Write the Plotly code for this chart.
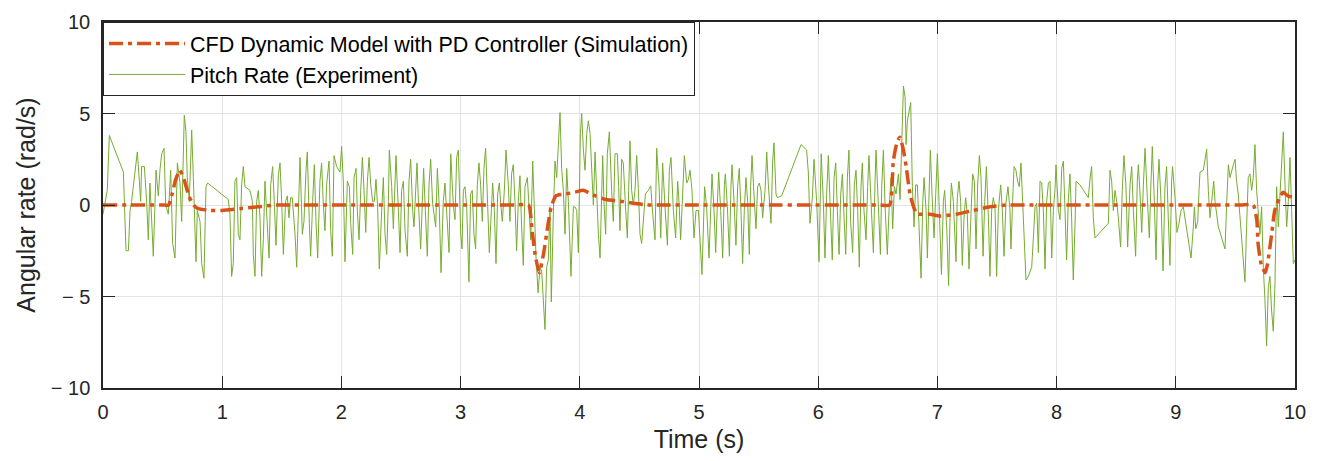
import plotly.graph_objects as go

# Experiment: pitch rate (rad/s) vs time (s)
exp_t = [0.0, 0.036, 0.053, 0.171, 0.193, 0.213, 0.227, 0.240, 0.254, 0.268, 0.288, 0.305, 0.316, 0.324, 0.347, 0.366, 0.380, 0.394, 0.408, 0.422, 0.445, 0.464, 0.478, 0.492, 0.512, 0.526, 0.548, 0.568, 0.584, 0.604, 0.624, 0.646, 0.660, 0.682, 0.696, 0.707, 0.724, 0.744, 0.758, 0.780, 0.791, 0.814, 0.828, 0.847, 0.864, 0.878,
         1.051, 1.065, 1.079, 1.093, 1.107, 1.121, 1.135, 1.149, 1.163, 1.177, 1.191, 1.233, 1.253, 1.261, 1.275, 1.289, 1.303, 1.317, 1.331, 1.345, 1.359, 1.373, 1.393, 1.407, 1.423, 1.437, 1.451, 1.471, 1.485, 1.499, 1.513, 1.532, 1.546, 1.560, 1.574, 1.588, 1.611, 1.625, 1.639, 1.653, 1.672, 1.686, 1.703, 1.714, 1.731, 1.742, 1.759, 1.773, 1.787, 1.801, 1.820, 1.834, 1.848, 1.862, 1.876, 1.896, 1.910, 1.924, 1.938, 1.960, 1.988, 2.002,
         2.016, 2.030, 2.050, 2.067, 2.078, 2.095, 2.106, 2.123, 2.134, 2.148, 2.162, 2.176, 2.190, 2.204, 2.218, 2.232, 2.246, 2.262, 2.276, 2.290, 2.304, 2.318, 2.338, 2.352, 2.366, 2.380, 2.394, 2.402, 2.422, 2.436, 2.450, 2.458, 2.478, 2.492, 2.505, 2.520, 2.534, 2.553, 2.567, 2.581, 2.598, 2.609, 2.623, 2.634, 2.648, 2.665, 2.679, 2.690, 2.704, 2.721, 2.735, 2.749, 2.765, 2.777, 2.791, 2.805, 2.821, 2.836, 2.855, 2.869, 2.883, 2.903, 2.917, 2.940, 2.953, 2.967, 2.981, 3.001, 3.012,
         3.023, 3.037, 3.051, 3.070, 3.084, 3.098, 3.112, 3.126, 3.140, 3.154, 3.168, 3.182, 3.196, 3.210, 3.224, 3.241, 3.255, 3.269, 3.283, 3.297, 3.311, 3.325, 3.336, 3.350, 3.367, 3.381, 3.400, 3.414, 3.428, 3.442, 3.456, 3.470, 3.484, 3.498, 3.512, 3.526, 3.540, 3.560, 3.574, 3.588, 3.605, 3.616, 3.633, 3.650, 3.666, 3.680, 3.694, 3.708, 3.722, 3.736, 3.750, 3.761, 3.778, 3.792, 3.806, 3.820, 3.834, 3.848, 3.862, 3.876, 3.890, 3.904, 3.926, 3.946, 3.960, 3.974, 3.988, 4.005, 4.016,
         4.030, 4.044, 4.058, 4.072, 4.086, 4.100, 4.114, 4.128, 4.142, 4.156, 4.170, 4.184, 4.192, 4.203, 4.217, 4.231, 4.248, 4.267, 4.281, 4.295, 4.315, 4.326, 4.337, 4.351, 4.365, 4.385, 4.399, 4.410, 4.421, 4.435, 4.449, 4.463, 4.477, 4.491, 4.505, 4.519, 4.533, 4.550, 4.575, 4.595, 4.612, 4.631, 4.645, 4.665, 4.679, 4.695, 4.715, 4.735, 4.751, 4.765, 4.785, 4.804, 4.821, 4.832, 4.846, 4.863, 4.877, 4.897, 4.911, 4.925, 4.941, 4.958, 4.975, 4.995, 5.008, 5.025, 5.047,
         5.064, 5.084, 5.098, 5.109, 5.126, 5.140, 5.154, 5.165, 5.182, 5.199, 5.213, 5.221, 5.238, 5.255, 5.268, 5.277, 5.294, 5.310, 5.324, 5.338, 5.352, 5.366, 5.380, 5.394, 5.408, 5.422, 5.433, 5.445, 5.461, 5.478, 5.492, 5.506, 5.520, 5.534, 5.554, 5.568, 5.582, 5.604, 5.618, 5.629, 5.646, 5.657, 5.693, 5.856, 5.903, 5.917, 5.931, 5.951, 5.965, 5.987, 6.007, 6.025,
         6.043, 6.057, 6.071, 6.085, 6.099, 6.118, 6.133, 6.147, 6.161, 6.175, 6.189, 6.203, 6.217, 6.231, 6.245, 6.258, 6.272, 6.289, 6.303, 6.317, 6.331, 6.345, 6.359, 6.370, 6.384, 6.401, 6.415, 6.426, 6.443, 6.463, 6.477, 6.485, 6.505, 6.522, 6.533, 6.547, 6.561, 6.580, 6.594, 6.611, 6.625, 6.639, 6.653, 6.673, 6.687, 6.701, 6.715, 6.729, 6.737, 6.748, 6.765, 6.776, 6.790, 6.804, 6.818, 6.832, 6.846, 6.863, 6.877, 6.888, 6.905, 6.916, 6.930, 6.941, 6.955, 6.972, 6.986, 7.000, 7.016, 7.034,
         7.050, 7.061, 7.078, 7.094, 7.106, 7.117, 7.134, 7.145, 7.156, 7.167, 7.181, 7.195, 7.209, 7.223, 7.237, 7.251, 7.265, 7.282, 7.296, 7.310, 7.324, 7.338, 7.352, 7.366, 7.383, 7.397, 7.411, 7.428, 7.441, 7.455, 7.469, 7.483, 7.497, 7.511, 7.531, 7.545, 7.559, 7.575, 7.592, 7.609, 7.617, 7.631, 7.643, 7.659, 7.673, 7.687, 7.701, 7.715, 7.726, 7.743, 7.763, 7.791, 7.805, 7.819, 7.833, 7.847, 7.861, 7.875, 7.889, 7.903, 7.917, 7.931, 7.945, 7.959, 7.973, 7.987, 7.995, 8.015, 8.029, 8.043,
         8.057, 8.070, 8.084, 8.098, 8.112, 8.126, 8.140, 8.154, 8.163, 8.196, 8.238, 8.266, 8.280, 8.294, 8.308, 8.322, 8.434, 8.448, 8.462, 8.476, 8.490, 8.504, 8.518, 8.537, 8.551, 8.565, 8.582, 8.596, 8.616, 8.630, 8.644, 8.663, 8.677, 8.686, 8.700, 8.714, 8.728, 8.742, 8.761, 8.778, 8.792, 8.803, 8.820, 8.834, 8.848, 8.859, 8.876, 8.893, 8.909, 8.923, 8.937, 8.951, 8.965, 8.973, 8.993, 9.010,
         9.027, 9.044, 9.063, 9.077, 9.091, 9.111, 9.128, 9.147, 9.156, 9.167, 9.184, 9.195, 9.203, 9.231, 9.245, 9.259, 9.273, 9.287, 9.301, 9.318, 9.329, 9.343, 9.357, 9.385, 9.413, 9.427, 9.441, 9.455, 9.469, 9.483, 9.497, 9.510, 9.524, 9.538, 9.552, 9.566, 9.580, 9.594, 9.608, 9.622, 9.636, 9.650, 9.664, 9.678, 9.692, 9.706, 9.720, 9.734, 9.748, 9.762, 9.776, 9.790, 9.804, 9.818, 9.832, 9.846, 9.860, 9.874, 9.888, 9.902, 9.916, 9.930, 9.944, 9.958, 9.972, 9.986, 10.0]
exp_v = [-0.5, 0.8, 3.8, 1.8, -2.5, -2.5, -0.3, 0.2, 1.0, 1.9, 2.9, 1.3, 0.2, 2.1, 2.1, 0.2, -1.9, 1.2, -1.2, -2.8, 1.9, 0.5, 1.9, 2.8, 3.1, 0.0, -0.5, 1.9, -2.1, -2.9, 2.3, 1.2, -0.9, 4.9, 4.0, 1.5, 0.2, 4.1, 1.5, -3.1, -0.3, -0.9, -3.2, -4.0, 1.0, 1.2,
         0.3, -0.5, -3.9, -3.2, 1.3, 1.5, -1.6, -1.9, 1.1, 2.1, 1.0, 0.8, 0.2, -2.7, -3.9, 0.2, 0.8, -0.7, -3.9, -1.9, 1.3, -0.3, -2.9, 1.1, 2.1, 0.2, -2.2, 1.6, 2.3, 0.2, -2.7, 0.2, 0.5, -0.7, 0.4, 0.4, -1.6, -3.4, 0.2, 2.6, -1.6, -0.9, 1.9, 2.9, -1.0, -2.8, 0.2, 2.2, -0.9, -2.9, 1.3, 2.3, 0.1, -1.4, 1.1, 2.4, -1.4, -2.8, 2.7, 2.1, 1.8, 3.2,
         1.3, -3.1, 1.3, 1.0, -1.0, -2.7, 1.5, 2.0, -0.3, -1.9, 0.8, 2.6, 0.8, -1.5, 1.3, 2.6, 1.1, 0.2, 0.2, 1.4, -0.1, -3.5, -0.3, 1.5, -1.6, -2.7, 0.2, 3.0, 1.0, -1.3, 1.3, 2.7, -0.3, -2.6, 0.8, 1.3, -1.4, -2.8, 1.3, 2.5, -0.3, -1.2, 0.8, 2.3, -0.1, -2.4, 0.2, 2.0, -0.3, -2.8, 1.1, 2.5, 0.1, -0.5, -1.2, 2.0, -0.1, -3.7, 0.2, 1.2, -0.3, -2.6, 2.8, -0.1, -0.8, 2.6, 3.0, -1.6, -2.4,
         0.8, 1.0, -0.1, -4.2, 0.6, 0.8, -1.6, -2.4, 1.1, 2.3, 1.1, -0.9, 2.0, 3.1, 0.6, -2.6, -0.7, 1.2, -0.3, -3.2, 0.6, 1.2, 0.1, -0.9, 0.8, 3.0, 1.1, -0.9, 1.7, 2.2, 0.2, -2.5, 0.2, 1.6, -1.2, -3.3, 1.0, 1.5, -0.1, -1.9, 2.4, 0.2, -2.9, -4.8, -3.4, -3.6, -5.2, -6.8, -3.4, -3.0, -0.1, -5.3, -0.5, 2.4, 1.5, 3.5, 5.05, 2.0, 0.8, -1.6, 2.0, 0.2, -3.9, -0.1, -0.1, -0.3, -2.6, 3.9, 5.0,
         3.0, 1.9, 3.9, 4.6, 3.9, 1.9, 0.0, 2.9, 0.2, -1.6, -2.9, 0.8, 2.7, 0.1, -1.6, 2.8, 4.0, 0.8, -0.9, 2.8, 2.8, 1.0, -1.4, 2.5, 2.3, -0.3, -1.8, 0.8, 3.5, 0.8, 0.0, 0.8, 2.7, 0.9, -1.6, -2.1, -0.7, 0.6, 0.8, 1.05, -0.5, -1.9, 3.1, 1.0, -1.8, 2.3, -0.1, -2.2, 1.9, 2.6, -0.3, -1.8, 1.3, 0.2, -1.9, 0.8, 2.7, 1.2, 1.4, 1.9, 0.8, -1.8, -0.3, -0.3, -2.0, -3.8, 1.0,
         -0.1, -2.9, -0.1, 1.7, -0.3, -2.6, 0.1, 1.8, -0.3, -2.9, 1.1, 1.7, -0.1, -2.8, 1.0, 2.2, 0.2, -2.2, 1.0, 2.0, -0.3, -3.2, -0.3, 1.5, 0.2, -2.7, 1.0, 2.7, 0.6, -1.3, 1.0, 1.2, 0.8, -0.7, 0.8, 2.9, 1.1, -1.0, 2.4, 3.4, 0.6, 0.4, 0.5, 3.3, 3.0, 1.8, -1.0, 0.4, 2.5, 0.2, -3.1, 2.8,
         0.2, -2.9, 0.6, 2.7, 0.2, -3.0, 1.5, 2.3, -0.3, -2.7, 0.6, 1.7, -0.7, -2.7, 1.5, 3.0, -0.9, -2.6, 1.1, 1.9, -0.3, -3.4, 1.0, 2.3, -0.3, -1.9, 1.0, 2.7, 0.2, -2.6, 1.3, 3.0, -0.1, -2.7, 1.0, 3.0, -0.1, -2.7, -0.3, 1.5, -1.3, 1.0, 0.6, 1.7, 0.3, 3.3, 6.5, 5.9, 3.3, 4.6, 5.3, 5.6, 1.0, -1.2, 1.1, 1.1, -1.2, -4.0, 0.1, 1.5, -0.3, -2.9, 0.6, 3.0, 0.6, -1.8, 0.6, 2.8, -0.3, -3.8,
         0.2, 0.8, -1.2, -4.4, -0.7, 1.2, 0.2, -1.6, -3.1, 0.4, 1.3, 0.2, -3.3, -0.7, 0.4, -0.5, -3.5, -0.5, 1.7, 1.3, -2.4, 1.1, 2.7, 1.5, -2.8, 0.2, 2.1, -0.7, -3.9, -0.3, 0.4, -0.1, -3.9, -0.3, 1.1, -0.3, -2.8, 0.1, 1.0, -0.3, -2.4, 0.2, 2.1, 1.9, 1.3, 1.0, 2.3, 0.2, -1.9, -4.1, -3.9, -3.4, -1.8, -0.1, 0.1, -2.6, 1.3, 1.2, -0.3, -3.5, 0.2, 1.2, 1.3, -2.9, -0.3, 0.9, 2.2, -0.3, -0.8, 2.0,
         2.4, 0.2, -3.0, 0.2, 1.7, -0.7, -4.1, -1.2, 1.3, 1.1, 0.7, 0.4, 1.4, 2.1, -0.7, -1.8, -1.0, 1.9, 1.3, -0.3, 0.8, 0.2, -0.7, -2.3, 0.8, 2.7, 1.0, -2.3, 1.1, 2.1, -0.3, -2.8, 1.3, 2.2, 0.6, -1.5, 1.1, 3.1, 0.4, -1.8, 1.3, 3.2, 0.2, -3.0, 1.1, 2.5, 0.2, -3.6, 1.0, 2.1, -0.7, -3.3, 1.3, 2.1, 0.4, -1.5,
         -1.0, -0.3, -0.1, -0.7, -1.4, -2.1, -2.9, -1.2, -0.1, -1.3, -0.9, 0.8, 1.8, 1.9, 2.4, 3.05, 0.8, -0.7, 0.2, 1.3, 0.2, -0.7, -1.2, -1.8, -2.4, 0.1, 2.2, 1.5, 1.9, 2.2, 2.5, 1.3, 0.6, -0.7, -1.6, -3.0, -4.2, -1.2, 1.5, 1.7, 0.8, 1.5, 3.3, 0.8, -0.3, -1.6, -0.1, -3.4, -5.2, -7.7, -4.5, -3.9, -5.8, -6.9, -4.3, 1.0, -1.2, 0.8, 2.05, 4.0, 1.1, -1.2, 0.2, 2.6, -0.3, -3.2, -3.0]

# Simulation: CFD dynamic model with PD controller
sim_t = [0.0, 0.2, 0.4, 0.5, 0.55, 0.58, 0.61, 0.645, 0.68, 0.72, 0.76, 0.80, 0.90, 1.0, 1.15, 1.3, 1.45, 1.6,
         1.9, 2.2, 2.5, 2.8, 3.1, 3.3, 3.45, 3.57, 3.60, 3.625, 3.66, 3.695, 3.73, 3.76, 3.80, 3.88, 3.96, 4.03, 4.11, 4.22, 4.34, 4.45, 4.56, 4.7,
         5.0, 5.3, 5.6, 5.9, 6.2, 6.4, 6.52, 6.60, 6.63, 6.66, 6.685, 6.715, 6.74, 6.77, 6.80, 6.83, 6.87, 6.94, 7.02, 7.16, 7.30, 7.44, 7.58, 7.75,
         8.0, 8.3, 8.6, 8.9, 9.2, 9.4, 9.55, 9.65, 9.68, 9.69, 9.715, 9.75, 9.77, 9.80, 9.83, 9.87, 9.90, 9.94, 10.0]
sim_v = [0.0, 0.0, 0.0, 0.0, 0.0, 0.6, 1.4, 1.9, 1.4, 0.5, 0.0, -0.2, -0.3, -0.3, -0.2, -0.1, 0.0, 0.0,
         0.0, 0.0, 0.0, 0.0, 0.0, 0.0, 0.0, 0.0, -1.4, -2.7, -3.7, -2.7, -1.2, -0.1, 0.5, 0.6, 0.7, 0.8, 0.55, 0.3, 0.2, 0.1, 0.0, 0.0,
         0.0, 0.0, 0.0, 0.0, 0.0, 0.0, 0.0, 0.0, 2.4, 3.4, 3.7, 3.0, 2.0, 0.6, -0.1, -0.5, -0.5, -0.5, -0.6, -0.5, -0.3, -0.1, 0.0, 0.0,
         0.0, 0.0, 0.0, 0.0, 0.0, 0.0, 0.0, 0.0, -0.85, -2.1, -3.2, -3.7, -3.2, -1.8, -0.3, 0.4, 0.7, 0.5, 0.4]

x_ticks = [0, 1, 2, 3, 4, 5, 6, 7, 8, 9, 10]
y_ticks = [10, 5, 0, -5, -10]
y_tick_text = ["10", "5", "0", "\u2212 5", "\u2212 10"]

FONT = "Liberation Sans, Arial, sans-serif"

fig = go.Figure()
fig.add_trace(go.Scatter(
    x=exp_t, y=exp_v, mode="lines",
    name="Pitch Rate (Experiment)",
    line=dict(color="#77AC30", width=1),
))
fig.add_trace(go.Scatter(
    x=sim_t, y=sim_v, mode="lines",
    name="CFD Dynamic Model with PD Controller (Simulation)",
    line=dict(color="#D95319", width=3.5, dash="14px,5px,4px,5px", shape="spline", smoothing=0.5),
))

axis_common = dict(
    showline=True, linecolor="#262626", linewidth=1.5, mirror="ticks",
    ticks="inside", ticklen=12, tickwidth=1.2, tickcolor="#262626",
    showgrid=True, gridcolor="#e3e3e3", gridwidth=1, zeroline=False,
    tickfont=dict(family=FONT, size=20, color="#262626"),
)

fig.update_layout(
    width=1322, height=461,
    margin=dict(l=103, r=27, t=22, b=73),
    paper_bgcolor="white", plot_bgcolor="white",
    font=dict(family=FONT, color="#262626"),
    showlegend=True,
    legend=dict(
        x=0, y=1, xanchor="left", yanchor="top",
        bgcolor="white", bordercolor="#262626", borderwidth=1,
        font=dict(family=FONT, size=21.5, color="#000000"),
        traceorder="reversed", itemwidth=76, tracegroupgap=0,
    ),
    xaxis=dict(range=[0, 10], tickvals=x_ticks, ticklabelstandoff=5,
               title=dict(text="Time (s)", font=dict(family=FONT, size=25, color="#262626"), standoff=9),
               **axis_common),
    yaxis=dict(range=[-10, 10], tickvals=y_ticks, ticktext=y_tick_text, ticklabelstandoff=7,
               title=dict(text="Angular rate (rad/s)", font=dict(family=FONT, size=25, color="#262626"), standoff=8),
               **axis_common),
)

fig.write_html("out.html")
